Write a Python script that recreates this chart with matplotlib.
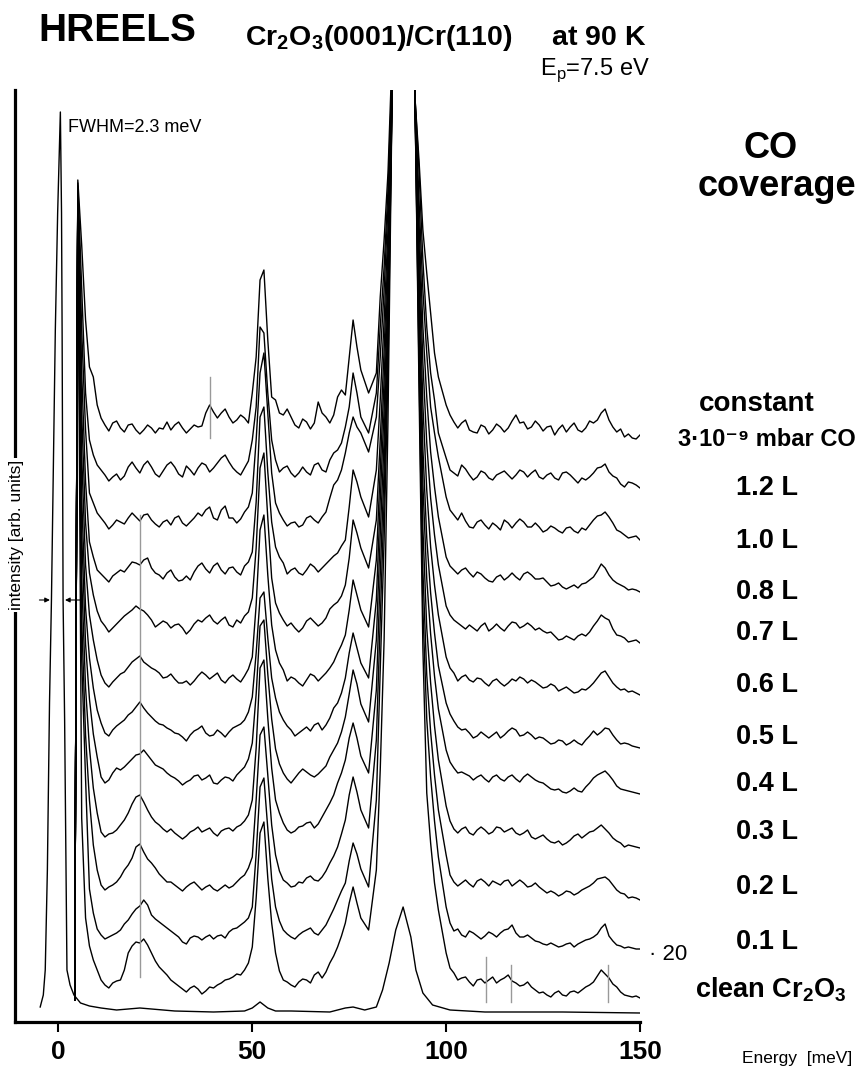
import matplotlib
matplotlib.use("Agg")
import matplotlib.pyplot as plt
import numpy as np

plt.rcParams['font.family'] = ['Liberation Sans', 'DejaVu Sans']
plt.rcParams['mathtext.fontset'] = 'custom'
plt.rcParams['mathtext.rm'] = 'Liberation Sans'
plt.rcParams['mathtext.bf'] = 'Liberation Sans:bold'

# ---- data: energy loss (meV), intensity (arb. units, relative to each trace's own level)
energy = [4.2, 5, 6, 7, 8, 9, 10,
          12, 14, 16, 18, 20, 22, 24, 26, 28, 30, 32, 34, 36, 38, 40, 42, 44, 46, 48, 50,
          51, 52, 53, 54, 55, 56,
          58, 60, 62, 64, 66, 68, 70, 72, 74,
          75, 76, 77, 78,
          80,
          82, 83, 84, 85, 86,
          89,
          92, 93, 94, 95, 96, 97, 98,
          100, 102, 104, 106, 108, 110, 112, 114, 116, 118, 120, 122, 124, 126, 128,
          130, 132, 134, 136, 138, 140, 142, 144, 146, 148, 150]
# in-between points of the noisy flat parts
energy_odd = [11, 13, 15, 17, 19, 21, 23, 25, 27, 29, 31, 33, 35, 37, 39, 41, 43, 45, 47, 49,
              57, 59, 61, 63, 65, 67, 69, 71, 73,
              101, 103, 105, 107, 109, 111, 113, 115, 117, 119, 121, 123, 125, 127, 129,
              131, 133, 135, 137, 139, 141, 143, 145, 147, 149]

i_const = [-565, 255, 190, 115, 68, 58, 30,
           10, 12, 7, 10, 5, 5, 7, 7, 13, 10, 7, 6, 8, 22, 23, 22, 18, 15, 17, 42,
           78, 155, 165, 95, 38, 35,
           20, 18, 7, 13, 12, 22, 12, 38, 40,
           78, 115, 88, 65,
           42,
           62, 138, 195, 262, 375,
           1500,
           335, 275, 205, 162, 122, 82, 58,
           30, 13, 12, 5, 2, 8, 5, 8, 7, 20, 13, 8, 10, 8, 0, 10, 8, 5, 7, 12, 22, 15, 3, -2, -3, 0]
o_const = [17, 4, 14, 3, 11, 1, 10, 2, 6, 5, 13, 2, 10, 9, 30, 17, 26, 12, 20, 12,
           22, 26, 10, 16, 6, 33, 18, 20, 45,
           20, 7, 15, 3, 10, 1, 11, 3, 14, 12, 6, 14, 4, 9, 6, 3, 12, 3, 14, 15, 26, 8, 6, 1, -4]
i_12L = [-512, 305, 200, 95, 48, 33, 23,
         13, 11, 8, 21, 20, 23, 21, 11, 23, 21, 11, 18, 20, 23, 20, 30, 26, 16, 20, 48,
         81, 161, 155, 95, 48, 28,
         20, 15, 15, 16, 23, 18, 28, 38, 61,
         81, 115, 95, 71,
         55,
         95, 161, 221, 298, 408,
         1500,
         388, 318, 228, 161, 115, 88, 55,
         30, 15, 23, 13, 11, 15, 8, 15, 13, 13, 16, 15, 11, 13, 10, 15, 13, 5, 8, 15, 21, 16, 10, 1, 5, 0]
o_12L = [18, 7, 14, 12, 26, 15, 27, 14, 17, 26, 14, 22, 13, 25, 16, 25, 33, 20, 13, 27,
         16, 22, 11, 21, 13, 25, 16, 35, 45,
         18, 12, 19, 8, 17, 10, 13, 17, 9, 18, 11, 18, 9, 15, 8, 16, 9, 10, 11, 20, 24, 12, 4, 6, 3]
i_10L = [-460, 354, 210, 110, 47, 37, 27,
         17, 15, 18, 22, 23, 25, 20, 13, 20, 22, 17, 18, 27, 30, 22, 30, 22, 17, 28, 47,
         100, 167, 187, 127, 67, 37,
         20, 17, 13, 22, 20, 23, 42, 60, 87,
         107, 123, 113, 107,
         88,
         123, 183, 250, 333, 455,
         1500,
         440, 340, 250, 187, 133, 107, 83,
         43, 25, 27, 13, 18, 15, 17, 10, 17, 17, 18, 13, 13, 10, 12, 7, 13, 7, 10, 20, 25, 23, 10, 5, 3, 0]
o_10L = [22, 11, 20, 16, 27, 19, 26, 16, 18, 15, 24, 14, 22, 24, 33, 20, 34, 22, 21, 33,
         27, 14, 18, 15, 24, 17, 28, 55, 70,
         30, 20, 19, 12, 20, 11, 14, 20, 12, 21, 13, 17, 8, 14, 9, 12, 9, 12, 15, 24, 28, 17, 8, 2, 4]
i_08L = [-408, 405, 220, 110, 50, 35, 22,
         14, 16, 22, 25, 29, 32, 24, 17, 19, 15, 12, 12, 26, 23, 26, 22, 24, 20, 26, 40,
         90, 175, 185, 120, 70, 45,
         29, 22, 19, 22, 25, 24, 32, 39, 52,
         85, 122, 110, 95,
         75,
         122, 192, 272, 362, 502,
         1500,
         490, 370, 265, 195, 140, 105, 75,
         35, 22, 22, 19, 20, 14, 10, 17, 15, 15, 18, 17, 13, 10, 7, 5, 5, 4, 9, 15, 28, 17, 9, 5, 3, 0]
o_08L = [18, 10, 19, 20, 30, 27, 34, 19, 13, 22, 11, 16, 20, 29, 19, 29, 18, 25, 17, 30,
         35, 18, 24, 17, 28, 20, 28, 36, 46,
         26, 18, 24, 15, 18, 11, 15, 12, 19, 12, 20, 13, 14, 6, 9, 3, 7, 8, 12, 21, 24, 12, 7, 2, 2]
i_07L = [-357, 455, 230, 120, 70, 48, 32,
         17, 15, 23, 30, 37, 32, 23, 19, 20, 18, 15, 13, 23, 25, 22, 23, 18, 23, 27, 45,
         95, 175, 190, 125, 65, 40,
         23, 20, 11, 22, 21, 20, 34, 41, 58,
         85, 123, 110, 95,
         75,
         123, 203, 293, 393, 548,
         1500,
         540, 400, 280, 200, 145, 108, 78,
         37, 23, 17, 18, 12, 20, 15, 15, 17, 20, 17, 17, 15, 10, 7, 4, 5, 7, 7, 17, 28, 23, 8, 5, 2, 0]
o_07L = [22, 11, 19, 27, 33, 34, 28, 16, 22, 15, 19, 9, 19, 21, 28, 19, 26, 16, 20, 31,
         30, 17, 15, 15, 25, 17, 25, 38, 47,
         28, 20, 14, 15, 17, 12, 19, 12, 21, 15, 20, 13, 12, 11, 3, 7, 3, 9, 11, 22, 25, 14, 7, 1, 3]
i_06L = [-305, 505, 240, 130, 80, 55, 35,
         12, 13, 21, 28, 36, 33, 27, 22, 18, 16, 12, 10, 19, 20, 19, 15, 17, 16, 19, 38,
         90, 165, 180, 120, 70, 45,
         25, 18, 12, 15, 19, 18, 27, 42, 60,
         85, 115, 100, 85,
         68,
         135, 225, 315, 425, 595,
         1500,
         590, 430, 290, 205, 148, 110, 80,
         38, 22, 18, 15, 17, 12, 14, 12, 12, 14, 16, 15, 10, 8, 9, 6, 5, 3, 5, 12, 22, 18, 8, 6, 4, 0]
o_06L = [20, 8, 17, 23, 33, 39, 30, 25, 17, 21, 12, 14, 14, 23, 16, 22, 12, 20, 13, 26,
         32, 14, 16, 9, 21, 14, 22, 33, 50,
         27, 14, 20, 13, 16, 9, 16, 9, 16, 18, 12, 13, 7, 11, 4, 8, 2, 6, 8, 17, 24, 12, 5, 3, 2]
i_05L = [-252, 556, 250, 140, 90, 60, 38,
         15, 18, 25, 33, 41, 40, 31, 24, 20, 15, 11, 13, 19, 15, 13, 15, 16, 22, 28, 51,
         95, 150, 156, 110, 70, 50,
         28, 18, 15, 21, 23, 18, 30, 45, 70,
         95, 115, 100, 85,
         70,
         148, 248, 338, 458, 648,
         1500,
         640, 460, 300, 210, 155, 115, 82,
         45, 27, 18, 15, 12, 13, 13, 10, 17, 18, 13, 13, 11, 7, 5, 7, 5, 5, 8, 17, 16, 19, 8, 5, 2, 0]
o_05L = [25, 12, 22, 28, 36, 46, 35, 27, 23, 18, 14, 7, 17, 22, 12, 18, 11, 20, 24, 36,
         36, 22, 12, 18, 17, 25, 23, 40, 55,
         34, 21, 19, 10, 16, 10, 16, 13, 20, 12, 16, 9, 10, 4, 8, 3, 8, 3, 12, 13, 20, 13, 4, 4, 1]
i_04L = [-206, 600, 260, 150, 95, 60, 37,
         11, 21, 24, 31, 39, 44, 34, 27, 21, 16, 9, 14, 19, 16, 11, 14, 16, 19, 27, 51,
         100, 168, 174, 120, 75, 45,
         21, 11, 21, 22, 17, 24, 37, 51, 77,
         100, 124, 110, 90,
         72,
         154, 259, 354, 484, 689,
         1500,
         690, 490, 310, 215, 160, 118, 85,
         44, 26, 22, 18, 17, 15, 17, 15, 17, 15, 17, 17, 12, 8, 4, 2, 3, 3, 7, 16, 21, 19, 8, 4, 2, 0]
o_04L = [17, 14, 26, 27, 35, 40, 39, 29, 25, 18, 13, 12, 18, 14, 19, 10, 17, 13, 23, 35,
         30, 15, 16, 25, 19, 20, 28, 44, 62,
         32, 21, 20, 14, 19, 12, 19, 13, 19, 12, 20, 14, 11, 5, 5, 1, 6, 2, 11, 19, 23, 14, 5, 3, 1]
i_03L = [-152, 652, 270, 160, 100, 60, 35,
         11, 15, 23, 35, 51, 46, 31, 23, 16, 15, 9, 16, 21, 18, 15, 17, 20, 21, 27, 48,
         100, 180, 188, 130, 80, 48,
         25, 15, 21, 25, 20, 31, 45, 65, 88,
         110, 125, 110, 92,
         75,
         158, 273, 378, 518, 743,
         1500,
         740, 520, 320, 220, 165, 122, 88,
         42, 19, 19, 15, 18, 18, 16, 20, 18, 15, 15, 11, 11, 9, 5, 3, 8, 14, 13, 17, 23, 15, 7, 1, 2, 0]
o_03L = [16, 14, 18, 28, 44, 53, 38, 26, 19, 19, 12, 12, 18, 16, 20, 12, 19, 17, 23, 33,
         35, 18, 17, 22, 26, 24, 38, 53, 75,
         27, 15, 21, 13, 21, 14, 21, 16, 20, 13, 18, 9, 13, 6, 7, 5, 12, 10, 16, 20, 19, 10, 5, 3, 1]
i_02L = [-100, 702, 280, 165, 100, 55, 30,
         10, 15, 23, 35, 53, 48, 37, 26, 18, 15, 9, 16, 14, 13, 11, 12, 12, 18, 25, 43,
         100, 165, 173, 125, 75, 45,
         20, 13, 18, 22, 20, 23, 37, 53, 80,
         105, 123, 108, 90,
         72,
         160, 280, 400, 550, 790,
         1500,
         790, 550, 330, 225, 168, 125, 90,
         45, 18, 17, 16, 19, 18, 19, 15, 20, 17, 17, 14, 13, 7, 7, 6, 8, 7, 12, 17, 22, 20, 10, 6, 3, 0]
o_02L = [15, 13, 18, 30, 42, 56, 41, 32, 22, 18, 12, 13, 18, 10, 15, 9, 15, 14, 22, 32,
         29, 17, 14, 17, 24, 19, 29, 44, 66,
         25, 14, 20, 13, 21, 14, 17, 19, 14, 20, 13, 17, 10, 9, 4, 9, 5, 10, 14, 21, 23, 15, 7, 2, 2]
i_01L = [-51, 749, 290, 170, 60, 36, 20,
         10, 14, 19, 29, 40, 49, 34, 27, 21, 15, 7, 11, 12, 12, 10, 14, 17, 21, 27, 42,
         95, 162, 171, 120, 70, 42,
         19, 12, 14, 19, 16, 19, 32, 49, 66,
         88, 106, 95, 80,
         62,
         149, 279, 409, 579, 839,
         1500,
         840, 580, 340, 230, 172, 128, 92,
         42, 18, 14, 18, 13, 13, 15, 16, 20, 16, 12, 11, 7, 4, 4, 3, 6, 5, 9, 12, 21, 13, 4, 1, 1, 0]
o_01L = [14, 12, 16, 25, 35, 43, 44, 30, 24, 18, 12, 5, 13, 9, 14, 13, 11, 20, 24, 31,
         28, 15, 10, 17, 21, 14, 24, 40, 58,
         26, 20, 12, 16, 10, 17, 12, 19, 24, 12, 14, 8, 5, 6, 2, 5, 2, 7, 10, 15, 25, 8, 3, 2, 0]
i_clean20 = [-2, 798, 180, 80, 52, 38, 28,
             13, 15, 18, 45, 56, 59, 45, 31, 23, 15, 9, 10, 9, 7, 10, 15, 19, 24, 28, 51,
             100, 165, 176, 120, 75, 45,
             18, 13, 16, 18, 23, 20, 35, 51, 75,
             95, 111, 95, 80,
             68,
             128, 228, 358, 578, 883,
             1500,
             890, 610, 350, 205, 155, 115, 88,
             45, 25, 20, 16, 18, 15, 21, 18, 23, 15, 13, 11, 5, 3, 5, 3, 6, 5, 11, 16, 28, 20, 11, 3, 1, 0]
o_clean20 = [18, 10, 17, 28, 52, 55, 53, 37, 27, 18, 12, 6, 12, 4, 11, 13, 18, 21, 23, 35,
             27, 16, 11, 19, 15, 26, 26, 42, 62,
             30, 18, 21, 12, 19, 18, 15, 20, 17, 12, 16, 8, 6, 1, 7, 2, 7, 8, 13, 22, 24, 14, 6, 2, 2]

# clean surface, unscaled (x1)
energy_clean = [-4.7, -3.9, -3.4, -2.85, -2.3, -1.8, -0.8, -0.2, 0.5, 0.8, 0.95, 1.2, 1.6, 2.2, 3.0,
                4.0, 5.7, 8, 11, 15, 18, 21, 24, 30, 40, 48, 50, 52, 54, 56, 60, 70, 74, 76, 79,
                82, 83.6, 85.3, 87, 88.9, 90.9, 92.2, 94, 96.5, 101, 110, 130, 150]
i_clean = [6, 18, 43, 143, 310, 413, 683, 800, 901, 800, 683, 413, 293, 43, 28,
           18, 10, 7, 5, 3, 4, 5, 4, 2, 1, 2, 5, 11, 5, 2, 2, 1, 5, 6, 3,
           6, 23, 50, 83, 106, 76, 43, 20, 8, 3, 1, 1, 0]

coverage_labels = ['3·10⁻⁹ mbar CO', '1.2 L', '1.0 L', '0.8 L', '0.7 L',
                   '0.6 L', '0.5 L', '0.4 L', '0.3 L', '0.2 L', '0.1 L',
                   'clean Cr$_{\\mathbf{2}}$O$_{\\mathbf{3}}$']
spectra = [i_const, i_12L, i_10L, i_08L, i_07L, i_06L, i_05L, i_04L, i_03L, i_02L, i_01L, i_clean20]
spectra_odd = [o_const, o_12L, o_10L, o_08L, o_07L, o_06L, o_05L, o_04L, o_03L, o_02L, o_01L, o_clean20]

# stacking offsets and label positions (layout)
offsets = [587, 534, 482, 430, 379, 327, 274, 228, 174, 122, 73, 24]
offset_clean = 9
label_y = [440, 488, 541, 592, 633, 685, 737, 784, 832, 887, 942, 990]

# thin grey marker lines: (energy, ymin, ymax)
markers = [(21, 45, 507), (39, 584, 645), (110.4, 20, 65), (116.6, 20, 57), (141.8, 20, 57)]

W, H = 862, 1072
fig = plt.figure(figsize=(W / 100, H / 100), dpi=100)
ax = fig.add_axes([15 / W, (H - 1022) / H, (640 - 15) / W, (1022 - 90) / H])


def ftext(x, y, s, **kw):
    fig.text(x / W, 1 - y / H, s, **kw)


ax.plot(energy_clean, offset_clean + np.array(i_clean), color='black', lw=1.0)
for vals, odd, off in zip(spectra, spectra_odd, offsets):
    e = np.concatenate([energy, energy_odd])
    v = np.concatenate([vals, odd])
    order = np.argsort(e, kind='stable')
    ax.plot(e[order], off + v[order], color='black', lw=1.0)

for e, y0, y1 in markers:
    ax.plot([e, e], [y0, y1], color='0.6', lw=1.0)

# FWHM arrows
ax.annotate('', xy=(-2.2, 422), xytext=(-4.9, 422),
            arrowprops=dict(arrowstyle='-|>', lw=0.8, color='black', mutation_scale=7, shrinkA=0, shrinkB=0))
ax.annotate('', xy=(1.7, 422), xytext=(5.6, 422),
            arrowprops=dict(arrowstyle='-|>', lw=0.8, color='black', mutation_scale=7, shrinkA=0, shrinkB=0))

ax.set_xlim(-11.2, 150)
ax.set_ylim(0, 932)
for s in ['top', 'right']:
    ax.spines[s].set_visible(False)
for s in ['left', 'bottom']:
    ax.spines[s].set_linewidth(2.3)
ax.set_yticks([])
ax.set_xticks([0, 50, 100, 150])
ax.tick_params(axis='x', direction='out', length=7, width=1.5, pad=6)
for lab in ax.get_xticklabels():
    lab.set_fontweight('bold')
    lab.set_fontsize(19)

# texts
ftext(117, 31, 'HREELS', fontsize=28, fontweight='bold', ha='center', va='center')
ftext(245, 38, 'Cr$_{\\mathbf{2}}$O$_{\\mathbf{3}}$(0001)/Cr(110)     at 90 K', fontsize=20.5,
      fontweight='bold', ha='left', va='center')
ftext(650, 70, 'E$_{\\mathregular{p}}$=7.5 eV', fontsize=17, ha='right', va='center')
ftext(68, 127, 'FWHM=2.3 meV', fontsize=13, ha='left', va='center')
ftext(771, 148, 'CO', fontsize=26, fontweight='bold', ha='center', va='center')
ftext(777, 186, 'coverage', fontsize=26, fontweight='bold', ha='center', va='center')
ftext(757, 404, 'constant', fontsize=20, fontweight='bold', ha='center', va='center')
ftext(856, label_y[0], coverage_labels[0], fontsize=17, fontweight='bold', ha='right', va='center')
for lab, y in zip(coverage_labels[1:-1], label_y[1:-1]):
    ftext(767, y, lab, fontsize=19.5, fontweight='bold', ha='center', va='center')
ftext(771, label_y[-1], coverage_labels[-1], fontsize=19.5, fontweight='bold', ha='center', va='center')
ftext(668, 955, '· 20', fontsize=16, ha='center', va='center')
ftext(797, 1058, 'Energy  [meV]', fontsize=12.5, ha='center', va='center')
fig.text(17 / W, 1 - 535 / H, 'intensity [arb. units]', rotation=90, fontsize=12.5,
         ha='center', va='center', bbox=dict(facecolor='white', edgecolor='none', pad=1.5))

fig.savefig('out.png', dpi=100)
